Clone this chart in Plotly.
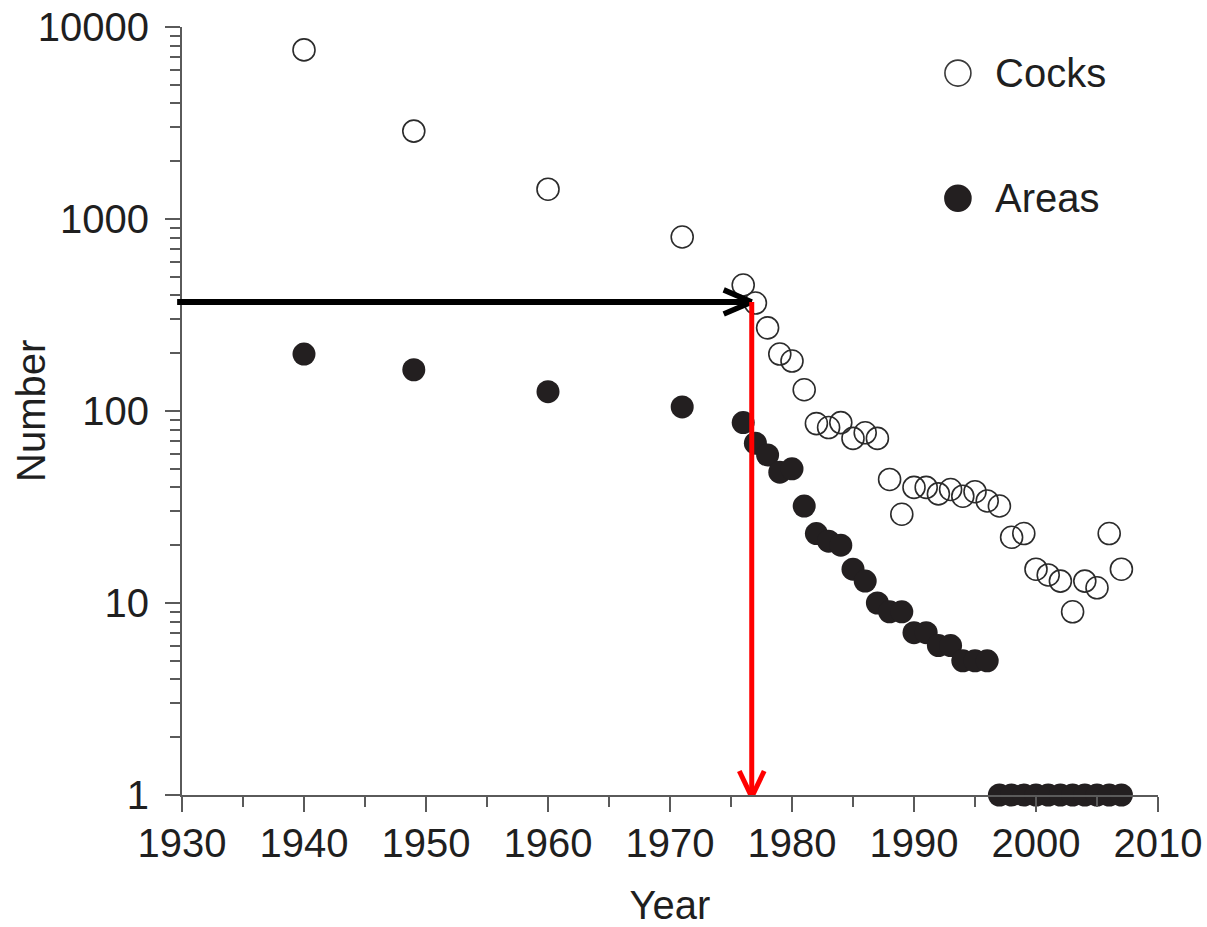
import plotly.graph_objects as go

# Census counts of cocks and of occupied areas, by year
cock_years = [1940, 1949, 1960, 1971, 1976, 1977, 1978, 1979, 1980, 1981, 1982,
              1983, 1984, 1985, 1986, 1987, 1988, 1989, 1990, 1991, 1992, 1993,
              1994, 1995, 1996, 1997, 1998, 1999, 2000, 2001, 2002, 2003, 2004,
              2005, 2006, 2007]
cock_counts = [7600, 2870, 1430, 806, 453, 365, 271, 198, 182, 129, 86,
               82, 87, 72, 77, 72, 44, 29, 40, 40, 37, 39,
               36, 38, 34, 32, 22, 23, 15, 14, 13, 9, 13,
               12, 23, 15]

area_years = [1940, 1949, 1960, 1971, 1976, 1977, 1978, 1979, 1980, 1981, 1982,
              1983, 1984, 1985, 1986, 1987, 1988, 1989, 1990, 1991, 1992, 1993,
              1994, 1995, 1996, 1997, 1998, 1999, 2000, 2001, 2002, 2003, 2004,
              2005, 2006, 2007]
area_counts = [198, 164, 126, 105, 87, 68, 59, 48, 50, 32, 23,
               21, 20, 15, 13, 10, 9, 9, 7, 7, 6, 6,
               5, 5, 5, 1, 1, 1, 1, 1, 1, 1, 1,
               1, 1, 1]

# Axis ticks
x_ticks = [1930, 1940, 1950, 1960, 1970, 1980, 1990, 2000, 2010]
y_ticks = [1, 10, 100, 1000, 10000]
y_tick_text = ["1", "10", "100", "1000", "10000"]

# Reference level read across to the year it was last reached
threshold_count = 370
threshold_year = 1976.7

X_RANGE = [1930, 2010]
Y_RANGE = [0, 4]  # log10 decades

FONT = "Liberation Sans, Arial, sans-serif"
TXT = "#1f1f1f"
AXC = "#5a5a5a"
DARK = "#231f20"

fig = go.Figure()

fig.add_trace(go.Scatter(
    x=cock_years, y=cock_counts, mode="markers", name="Cocks",
    marker=dict(symbol="circle-open", size=22, color="#2b2b2b",
                line=dict(width=1.6, color="#2b2b2b")),
    cliponaxis=False, showlegend=False,
))
fig.add_trace(go.Scatter(
    x=area_years, y=area_counts, mode="markers", name="Areas",
    marker=dict(symbol="circle", size=23, color=DARK, line=dict(width=0)),
    cliponaxis=False, showlegend=False,
))

shapes = []


def to_paper_x(year):
    return (year - X_RANGE[0]) / (X_RANGE[1] - X_RANGE[0])


# Horizontal black arrow: from the y axis to the threshold year
shapes.append(dict(type="line", xref="paper", yref="y",
                   x0=-0.005, x1=to_paper_x(threshold_year),
                   y0=threshold_count, y1=threshold_count,
                   line=dict(color="black", width=6), layer="above"))
arm_dx = 2.3
arm_f = 1.155
for f in (arm_f, 1 / arm_f):
    shapes.append(dict(type="line", xref="x", yref="y",
                       x0=threshold_year - arm_dx, y0=threshold_count * f,
                       x1=threshold_year, y1=threshold_count,
                       line=dict(color="black", width=5.5), layer="above"))

# Vertical red arrow: from the threshold down to the x axis
red_tip = 0.976
shapes.append(dict(type="line", xref="x", yref="y",
                   x0=threshold_year, x1=threshold_year,
                   y0=threshold_count, y1=red_tip,
                   line=dict(color="#ff0000", width=5), layer="above"))
for dx in (-1.02, 1.02):
    shapes.append(dict(type="line", xref="x", yref="y",
                       x0=threshold_year + dx, y0=red_tip * 1.366,
                       x1=threshold_year, y1=red_tip,
                       line=dict(color="#ff0000", width=5), layer="above"))

# Legend symbols and labels
leg_x = 0.795
leg_rows = [("Cocks", 0.940, "rgba(0,0,0,0)"), ("Areas", 0.777, DARK)]
annotations = []
for label, ly, fill in leg_rows:
    shapes.append(dict(type="circle", xref="paper", yref="paper",
                       xsizemode="pixel", ysizemode="pixel",
                       xanchor=leg_x, yanchor=ly,
                       x0=-13, x1=13, y0=-13, y1=13,
                       fillcolor=fill,
                       line=dict(color="#3a3a3a" if fill != DARK else DARK, width=1.6)))
    annotations.append(dict(xref="paper", yref="paper", x=0.831, y=ly,
                            xanchor="left", yanchor="middle", showarrow=False,
                            text=label, font=dict(family=FONT, size=40, color=TXT)))

# Vertical axis title
annotations.append(dict(xref="paper", yref="paper", x=0, y=0.5, xshift=-151,
                        xanchor="center", yanchor="middle", showarrow=False,
                        textangle=-90, text="Number",
                        font=dict(family=FONT, size=40, color=TXT)))

fig.update_layout(
    width=1207, height=927,
    margin=dict(l=182, r=49, t=27, b=132),
    paper_bgcolor="white", plot_bgcolor="white",
    font=dict(family=FONT, size=40, color=TXT),
    shapes=shapes, annotations=annotations,
    showlegend=False,
)

fig.update_xaxes(
    range=X_RANGE, tickvals=x_ticks, ticks="outside", ticklen=15, tickwidth=2,
    tickcolor=AXC, showline=True, linecolor=AXC, linewidth=2,
    showgrid=False, zeroline=False, automargin=False,
    tickfont=dict(family=FONT, size=40, color=TXT), ticklabelstandoff=-3,
    minor=dict(dtick=5, ticks="outside", ticklen=10, tickwidth=2, tickcolor=AXC, showgrid=False),
    title=dict(text="Year", font=dict(family=FONT, size=40, color=TXT), standoff=42),
)
fig.update_yaxes(
    type="log", range=Y_RANGE, tickvals=y_ticks, ticktext=y_tick_text,
    ticks="outside", ticklen=15, tickwidth=2, tickcolor=AXC,
    showline=True, linecolor=AXC, linewidth=2,
    showgrid=False, zeroline=False, automargin=False,
    tickfont=dict(family=FONT, size=40, color=TXT), ticklabelstandoff=8,
    minor=dict(dtick="D1", ticks="outside", ticklen=10, tickwidth=2, tickcolor=AXC, showgrid=False),
)

fig.write_html("out.html")
